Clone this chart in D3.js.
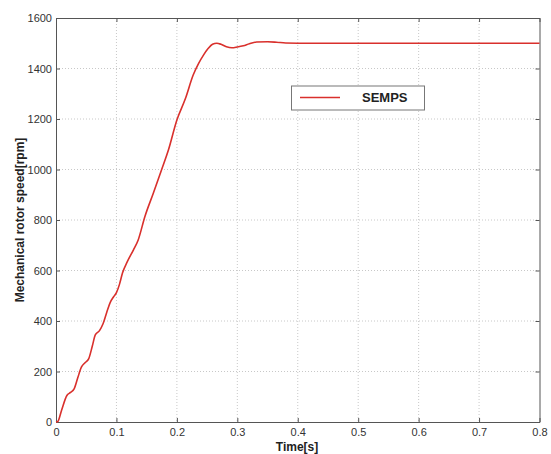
<!DOCTYPE html>
<html>
<head>
<meta charset="utf-8">
<style>
  body { margin: 0; background: #fff; }
  svg { display: block; font-family: Arial, 'Liberation Sans', sans-serif; }
</style>
</head>
<body>
<svg width="551" height="454"></svg>
<script src="https://d3js.org/d3.v7.min.js"></script>
<script>
// rotor speed
const time = [0, 0.003, 0.009, 0.018, 0.024, 0.03, 0.036, 0.042, 0.048, 0.054, 0.06, 0.065, 0.072, 0.078, 0.084, 0.09, 0.095, 0.1, 0.105, 0.11, 0.118, 0.128, 0.136, 0.147, 0.161, 0.175, 0.186, 0.2, 0.214, 0.227, 0.236, 0.244, 0.252, 0.259, 0.266, 0.273, 0.282, 0.291, 0.3, 0.31, 0.32, 0.332, 0.35, 0.365, 0.38, 0.42, 0.5, 0.6, 0.7, 0.8];
const speed = [0, 2, 45, 105, 117, 131, 175, 217, 235, 250, 300, 345, 362, 390, 435, 475, 495, 512, 545, 590, 635, 681, 721, 813, 906, 1001, 1077, 1196, 1280, 1374, 1420, 1453, 1480, 1496, 1500, 1496, 1486, 1482, 1485, 1490, 1498, 1505, 1506, 1504, 1501, 1500, 1500, 1500, 1500, 1500];
const xTicks = [0, 0.1, 0.2, 0.3, 0.4, 0.5, 0.6, 0.7, 0.8];
const yTicks = [0, 200, 400, 600, 800, 1000, 1200, 1400, 1600];
const seriesName = "SEMPS";

const svg = d3.select("svg");
const mLeft = 56, mRight = 539.5, mTop = 18, mBottom = 422;

const x = d3.scaleLinear().domain([0, 0.8]).range([mLeft, mRight]);
const y = d3.scaleLinear().domain([0, 1600]).range([mBottom, mTop]);

// grid
svg.append("g")
  .selectAll("line")
  .data(xTicks.slice(1, -1))
  .join("line")
  .attr("x1", d => x(d)).attr("x2", d => x(d))
  .attr("y1", mTop).attr("y2", mBottom)
  .style("stroke", "#c8c8c8").style("stroke-dasharray", "1,2").style("stroke-width", 1);

svg.append("g")
  .selectAll("line")
  .data(yTicks.slice(1, -1))
  .join("line")
  .attr("x1", mLeft).attr("x2", mRight)
  .attr("y1", d => y(d)).attr("y2", d => y(d))
  .style("stroke", "#c8c8c8").style("stroke-dasharray", "1,2").style("stroke-width", 1);

// axes with inward ticks
svg.append("g")
  .attr("transform", `translate(0,${mBottom})`)
  .call(d3.axisBottom(x).tickValues(xTicks).tickFormat(d3.format("")).tickSizeInner(-4).tickSizeOuter(0).tickPadding(6));
svg.append("g")
  .attr("transform", `translate(${mLeft},0)`)
  .call(d3.axisLeft(y).tickValues(yTicks).tickFormat(d3.format("d")).tickSizeInner(-4).tickSizeOuter(0).tickPadding(4));
svg.append("g")
  .attr("transform", `translate(0,${mTop})`)
  .call(d3.axisTop(x).tickValues(xTicks).tickFormat("").tickSizeInner(-4).tickSizeOuter(0));
svg.append("g")
  .attr("transform", `translate(${mRight},0)`)
  .call(d3.axisRight(y).tickValues(yTicks).tickFormat("").tickSizeInner(-4).tickSizeOuter(0));

svg.selectAll(".domain").style("stroke", "#555");
svg.selectAll(".tick line").style("stroke", "#555");
svg.selectAll(".tick text").style("font-size", "11px").style("fill", "#333");

// the speed curve
const line = d3.line().x((d, i) => x(time[i])).y(d => y(d)).curve(d3.curveMonotoneX);
svg.append("path")
  .datum(speed)
  .attr("d", line)
  .style("fill", "none")
  .style("stroke", "#d9302c")
  .style("stroke-width", 1.6);

// legend
svg.append("rect")
  .attr("x", 291.5).attr("y", 86).attr("width", 133).attr("height", 24)
  .style("fill", "#fff").style("stroke", "#777").style("stroke-width", 1);
svg.append("line")
  .attr("x1", 300).attr("x2", 340).attr("y1", 97.5).attr("y2", 97.5)
  .style("stroke", "#d9302c").style("stroke-width", 1.6);
svg.append("text")
  .attr("x", 362).attr("y", 102)
  .style("font-size", "13px").style("font-weight", "bold").style("fill", "#222")
  .text(seriesName);

// axis labels
svg.append("text")
  .attr("x", 297).attr("y", 451)
  .attr("text-anchor", "middle")
  .style("font-size", "12px").style("font-weight", "bold").style("fill", "#222")
  .text("Time[s]");
svg.append("text")
  .attr("transform", "translate(24,220) rotate(-90)")
  .attr("text-anchor", "middle")
  .style("font-size", "12px").style("font-weight", "bold").style("fill", "#222")
  .text("Mechanical rotor speed[rpm]");
</script>
</body>
</html>
